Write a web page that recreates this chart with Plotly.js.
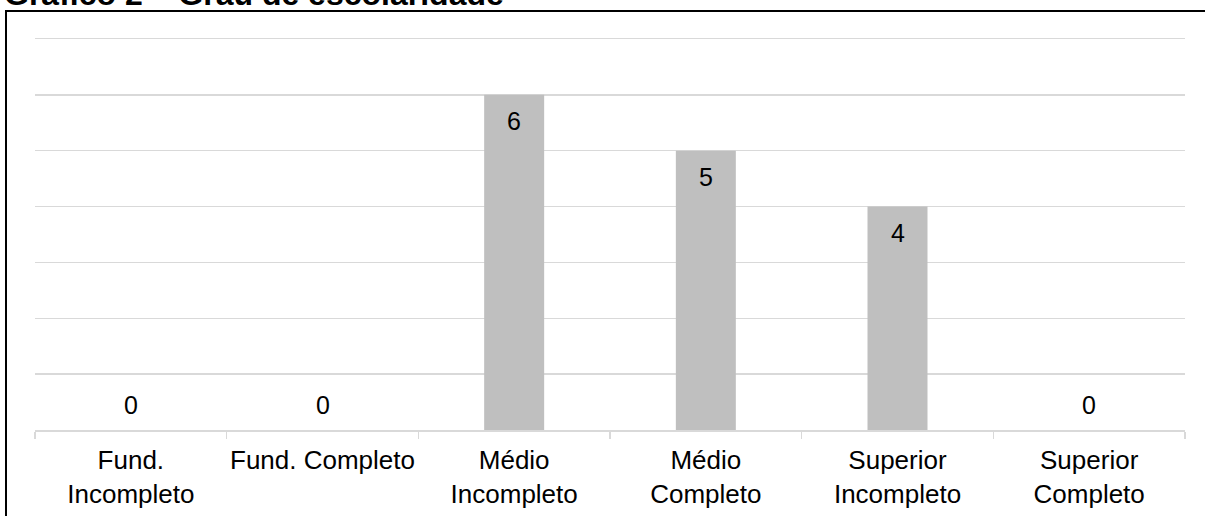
<!DOCTYPE html>
<html>
<head>
<meta charset="utf-8">
<script src="https://cdn.plot.ly/plotly-3.0.1.min.js"></script>
<style>html,body{margin:0;padding:0;background:#fff;}#chart{width:1205px;height:516px;}</style>
</head>
<body>
<div id="chart"></div>
<script>
const categories = ["Fund.<br>Incompleto", "Fund. Completo", "Médio<br>Incompleto", "Médio<br>Completo", "Superior<br>Incompleto", "Superior<br>Completo"];
const values = [0, 0, 6, 5, 4, 0];
const chartTitle = "Gráfico 2 – Grau de escolaridade";

const W = 1205, H = 516;
const M = {l: 35, r: 20, t: 39, b: 86};
const pw = W - M.l - M.r, ph = H - M.t - M.b;
const px = x => (x - M.l) / pw;
const py = y => (H - M.b - y) / ph;
const FONT = "Arial, 'Liberation Sans', sans-serif";

const annotations = values.map((v, i) => ({
  x: categories[i], y: v, xref: 'x', yref: 'y',
  text: String(v), showarrow: false,
  yanchor: 'middle', xanchor: 'center',
  yshift: v > 0 ? -26 : 25,
  font: {family: FONT, size: 25, color: '#000'}
}));
annotations.push({
  xref: 'paper', yref: 'paper', x: px(2), y: py(14),
  xanchor: 'left', yanchor: 'bottom', showarrow: false,
  text: '<b>' + chartTitle + '</b>',
  font: {family: FONT, size: 32, color: '#000'}
});

const data = [{
  type: 'bar', x: categories, y: values,
  marker: {color: '#bfbfbf'}, width: 0.313,
  hoverinfo: 'none'
}];

const layout = {
  width: W, height: H,
  margin: M,
  paper_bgcolor: '#fff', plot_bgcolor: '#fff',
  showlegend: false,
  font: {family: FONT, color: '#000'},
  xaxis: {
    type: 'category', range: [-0.5, 5.5],
    showline: true, mirror: true, linecolor: '#d9d9d9', linewidth: 1.5,
    ticks: 'outside', tickson: 'boundaries', ticklen: 7, tickcolor: '#d9d9d9', tickwidth: 1.5,
    showgrid: false, zeroline: false,
    tickfont: {family: FONT, size: 26, color: '#000'},
    ticklabelstandoff: 6,
    tickangle: 0, automargin: false
  },
  yaxis: {
    range: [0, 7], dtick: 1, showticklabels: false,
    showgrid: true, gridcolor: '#d9d9d9', gridwidth: 1.5,
    zeroline: false, showline: false, ticks: '', automargin: false
  },
  annotations: annotations,
  shapes: [
    {type: 'line', xref: 'paper', yref: 'paper', x0: px(6), x1: px(6), y0: py(530), y1: py(10),
     line: {color: '#000', width: 2}},
    {type: 'line', xref: 'paper', yref: 'paper', x0: px(5), x1: px(1230), y0: py(11), y1: py(11),
     line: {color: '#000', width: 2}}
  ]
};

Plotly.newPlot('chart', data, layout, {displayModeBar: false, staticPlot: true});
</script>
</body>
</html>
